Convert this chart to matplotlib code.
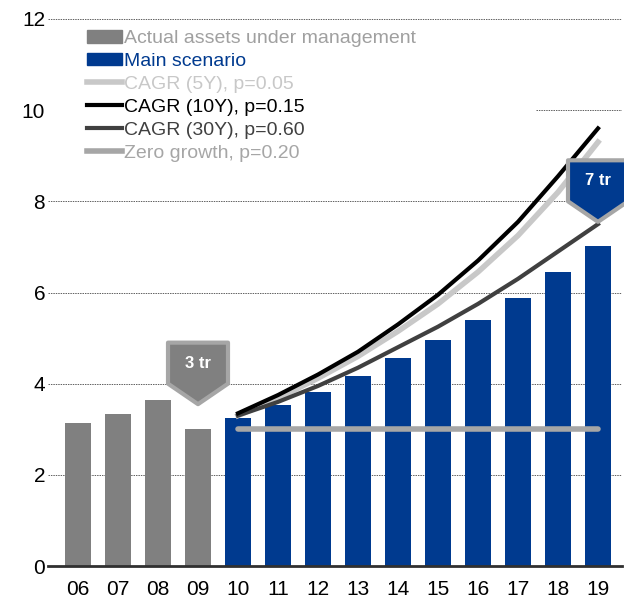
import matplotlib
matplotlib.use("Agg")
import matplotlib.pyplot as plt
from matplotlib.patches import Polygon
from matplotlib.lines import Line2D
from matplotlib.patches import Patch

plt.rcParams['font.family'] = ['Liberation Sans', 'DejaVu Sans']

years = ["06", "07", "08", "09", "10", "11", "12", "13", "14", "15", "16", "17", "18", "19"]
actual = [3.13, 3.33, 3.65, 3.0]
main_scenario = [3.25, 3.53, 3.82, 4.17, 4.56, 4.96, 5.39, 5.88, 6.45, 7.02]
cagr_5y = [3.30, 3.68, 4.12, 4.60, 5.15, 5.75, 6.45, 7.25, 8.2, 9.3]
cagr_10y = [3.35, 3.75, 4.20, 4.70, 5.30, 5.95, 6.70, 7.55, 8.55, 9.6]
cagr_30y = [3.30, 3.60, 3.95, 4.35, 4.80, 5.25, 5.75, 6.30, 6.90, 7.50]
zero_growth = [3.0] * 10
yticks = [0, 2, 4, 6, 8, 10, 12]

GRAY = "#808080"
BLUE = "#003a8f"

fig = plt.figure(figsize=(6.24, 6.12), dpi=100)
ax = fig.add_axes([48/624, 46/612, 574/624, 547/612])

xa = list(range(len(actual)))
xm = list(range(len(actual), len(years)))

for y in yticks[1:]:
    # the 10 gridline is hidden behind the legend box in the original
    xmin = 0.85 if y == 10 else 0.0
    ax.axhline(y, xmin=xmin, color="#606060", lw=0.7, ls=(0, (1.5, 1)), zorder=0)

ax.bar(xa, actual, width=0.65, color=GRAY, zorder=2)
ax.bar(xm, main_scenario, width=0.65, color=BLUE, zorder=2)

ax.plot(xm, zero_growth, color="#a6a6a6", lw=4, solid_capstyle="round", zorder=3)
ax.plot(xm, cagr_5y, color="#c8c8c8", lw=4, zorder=3)
ax.plot(xm, cagr_30y, color="#404040", lw=3, zorder=4)
ax.plot(xm, cagr_10y, color="black", lw=3, zorder=5)

ax.set_xlim(-0.75, 13.6)
ax.set_ylim(0, 12)
ax.set_xticks(range(len(years)))
ax.set_xticklabels(years, fontsize=15)
ax.set_yticks(yticks)
ax.set_yticklabels([str(v) for v in yticks], fontsize=15)
ax.tick_params(length=0, pad=10)
ax.tick_params(axis='y', pad=2)
for s in ["top", "right", "left"]:
    ax.spines[s].set_visible(False)
ax.spines["bottom"].set_color("#303030")
ax.spines["bottom"].set_linewidth(2)


def badge(xc, ytip, text, fc):
    w = 0.75
    h_rect = 0.9
    h_tip = 0.45
    pts = [(xc - w, ytip + h_tip), (xc - w, ytip + h_tip + h_rect),
           (xc + w, ytip + h_tip + h_rect), (xc + w, ytip + h_tip), (xc, ytip)]
    poly = Polygon(pts, closed=True, facecolor=fc, edgecolor="#a6a6a6", lw=3,
                   joinstyle="round", zorder=6, clip_on=False)
    ax.add_patch(poly)
    ax.text(xc, ytip + h_tip + h_rect * 0.5, text, color="white", fontsize=12,
            fontweight="bold", ha="center", va="center", zorder=7)


badge(3, 3.55, "3 tr", GRAY)
badge(13, 7.55, "7 tr", BLUE)

handles = [
    Patch(facecolor=GRAY, edgecolor=GRAY),
    Patch(facecolor=BLUE, edgecolor=BLUE),
    Line2D([], [], color="#c8c8c8", lw=4),
    Line2D([], [], color="black", lw=3),
    Line2D([], [], color="#404040", lw=3),
    Line2D([], [], color="#a6a6a6", lw=4),
]
labels = ["Actual assets under management", "Main scenario", "CAGR (5Y), p=0.05",
          "CAGR (10Y), p=0.15", "CAGR (30Y), p=0.60", "Zero growth, p=0.20"]
text_colors = ["#a0a0a0", BLUE, "#c8c8c8", "black", "#404040", "#a6a6a6"]
leg = ax.legend(handles, labels, loc="upper left",
                bbox_to_anchor=(0.065, 0.983),
                frameon=True, fontsize=14, handlelength=1.8, handleheight=0.6,
                handletextpad=0.1, labelspacing=0.3, borderpad=0.1,
                borderaxespad=0, framealpha=1)
leg.get_frame().set_facecolor("white")
leg.get_frame().set_edgecolor("none")
leg.set_zorder(10)
for t, c in zip(leg.get_texts(), text_colors):
    t.set_color(c)

fig.savefig("out.png", dpi=100)
